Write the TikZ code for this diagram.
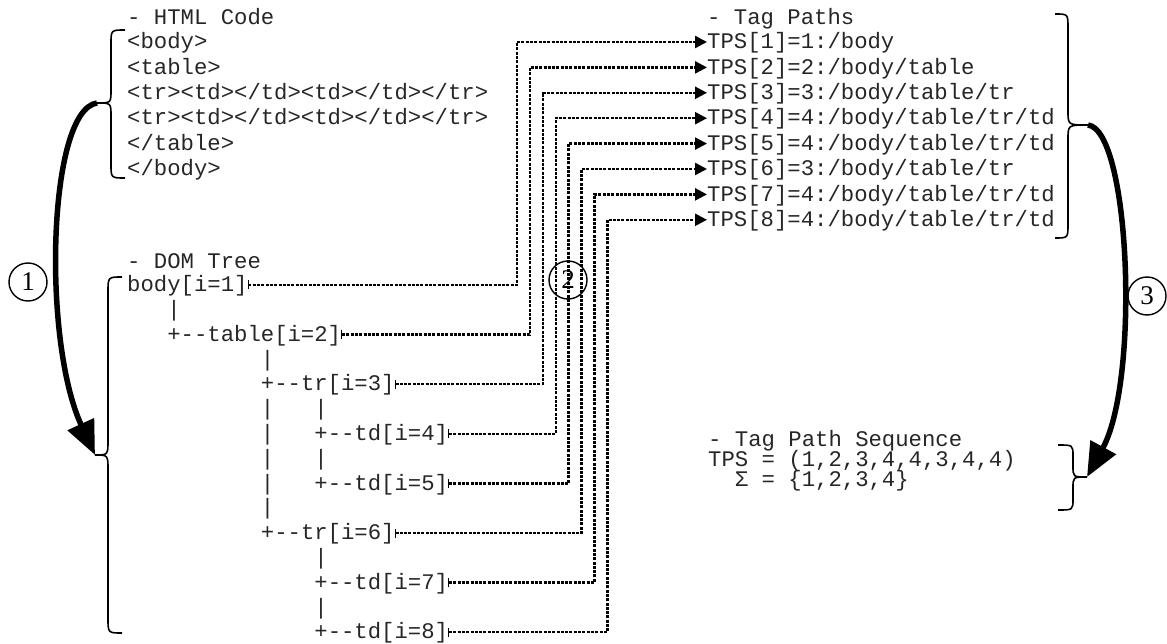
\documentclass[tikz,border=0pt]{standalone}
\usepackage{fontspec}
\setmonofont{Liberation Mono}
\newfontfamily\numfont{Liberation Serif}
\usetikzlibrary{arrows.meta}
\newcommand{\dcol}[1]{127+13.37*(#1)}
\newcommand{\drow}[1]{285+24.8*(#1)}
\newcommand{\trow}[1]{42+25.4*(#1)}
\begin{document}
\begin{tikzpicture}[x=1pt,y=-1pt,
  code/.style={anchor=west, inner sep=0pt, font=\fontsize{22.28}{24}\ttfamily, text=black!85, text height=17.8pt, text depth=4.4pt},
  conn/.style={line width=2.4pt, dash pattern=on 3pt off 1.3pt, {Bar[width=9pt,line width=1pt]}-{Triangle[length=12pt,width=12pt]}},
  brc/.style={line width=1.6pt},
  bigarrow/.style={line width=5.5pt, -{Triangle[length=34pt,width=28pt]}},
  num/.style={circle, draw, line width=1.4pt, minimum size=38pt, inner sep=0pt, font=\fontsize{27}{27}\numfont}]
\useasboundingbox (0,0) rectangle (1167,644);

% ---- HTML code
\node[code] (htitle) at (127,18) {- HTML Code};
\node[code] (h1) at (127,{\trow{0}}) {<body>};
\node[code] (h2) at (127,{\trow{1}}) {<table>};
\node[code] (h3) at (127,{\trow{2}}) {<tr><td></td><td></td></tr>};
\node[code] (h4) at (127,{\trow{3}}) {<tr><td></td><td></td></tr>};
\node[code] (h5) at (127,{\trow{4}}) {</table>};
\node[code] (h6) at (127,{\trow{5}}) {</body>};

% ---- Tag paths
\node[code] (ttitle) at (707,18) {- Tag Paths};
\node[code] (t1) at (707,{\trow{0}}) {TPS[1]=1:/body};
\node[code] (t2) at (707,{\trow{1}}) {TPS[2]=2:/body/table};
\node[code] (t3) at (707,{\trow{2}}) {TPS[3]=3:/body/table/tr};
\node[code] (t4) at (707,{\trow{3}}) {TPS[4]=4:/body/table/tr/td};
\node[code] (t5) at (707,{\trow{4}}) {TPS[5]=4:/body/table/tr/td};
\node[code] (t6) at (707,{\trow{5}}) {TPS[6]=3:/body/table/tr};
\node[code] (t7) at (707,{\trow{6}}) {TPS[7]=4:/body/table/tr/td};
\node[code] (t8) at (707,{\trow{7}}) {TPS[8]=4:/body/table/tr/td};

% ---- DOM tree
\node[code] (dtitle) at (127,262) {- DOM Tree};
\node[code] (d1) at ({\dcol{0}},{\drow{0}}) {body[i=1]};
\node[code] (p1) at ({\dcol{3}},{\drow{1}}) {|};
\node[code] (d2) at ({\dcol{3}},{\drow{2}}) {+--table[i=2]};
\node[code] (p2) at ({\dcol{10}},{\drow{3}}) {|};
\node[code] (d3) at ({\dcol{10}},{\drow{4}}) {+--tr[i=3]};
\node[code] (p3) at ({\dcol{10}},{\drow{5}}) {|};
\node[code] (p4) at ({\dcol{14}},{\drow{5}}) {|};
\node[code] (p5) at ({\dcol{10}},{\drow{6}}) {|};
\node[code] (d4) at ({\dcol{14}},{\drow{6}}) {+--td[i=4]};
\node[code] (p6) at ({\dcol{10}},{\drow{7}}) {|};
\node[code] (p7) at ({\dcol{14}},{\drow{7}}) {|};
\node[code] (p8) at ({\dcol{10}},{\drow{8}}) {|};
\node[code] (d5) at ({\dcol{14}},{\drow{8}}) {+--td[i=5]};
\node[code] (p9) at ({\dcol{10}},{\drow{9}}) {|};
\node[code] (d6) at ({\dcol{10}},{\drow{10}}) {+--tr[i=6]};
\node[code] (p10) at ({\dcol{14}},{\drow{11}}) {|};
\node[code] (d7) at ({\dcol{14}},{\drow{12}}) {+--td[i=7]};
\node[code] (p11) at ({\dcol{14}},{\drow{13}}) {|};
\node[code] (d8) at ({\dcol{14}},{\drow{14}}) {+--td[i=8]};

% ---- Tag path sequence
\node[code] (stitle) at (708,440) {- Tag Path Sequence};
\node[code] (s1) at (708,460) {TPS = (1,2,3,4,4,3,4,4)};
\node[code] (s2) at ({708+2*13.37},480) {Σ = \{1,2,3,4\}};

% ---- connectors
\foreach \k/\vx in {1/517,2/529.9,3/542.8,4/555.7,5/568.6,6/581.5,7/594.4,8/607.3}{
  \coordinate (v\k) at (\vx,0);
  \draw[conn] (d\k.east) -- (d\k.east -| v\k) -- (v\k |- t\k.west) -- (t\k.west);
}

% ---- braces
\coordinate (hb) at (97,103);
\coordinate (db) at (95,455);
\coordinate (tb) at (1088,125);
\coordinate (sb) at (1087,477);
\draw[brc] (125,30) .. controls (111,30) .. (111,44) -- (111,90) .. controls (111,103) .. (hb)
  .. controls (111,103) .. (111,116) -- (111,164) .. controls (111,178) .. (125,178);
\draw[brc] (122,277) .. controls (108,277) .. (108,292) -- (108,440) .. controls (108,455) .. (db)
  .. controls (108,455) .. (108,470) -- (108,618) .. controls (108,633) .. (122,633);
\draw[brc] (1055,14) .. controls (1068,14) .. (1068,28) -- (1068,111) .. controls (1068,125) .. (tb)
  .. controls (1068,125) .. (1068,139) -- (1068,224) .. controls (1068,238) .. (1055,238);
\draw[brc] (1058,445) .. controls (1073,445) .. (1073,456) -- (1073,466) .. controls (1073,477) .. (sb)
  .. controls (1073,477) .. (1073,488) -- (1073,499) .. controls (1073,510) .. (1058,510);

% ---- big arrows
\draw[bigarrow] (hb) .. controls (48,110) and (42,340) .. (db);
\draw[bigarrow] (tb) .. controls (1130,130) and (1140,380) .. (sb);

% ---- step numbers
\node[num] (n1) at (28,282) {1};
\node[num] (n2) at (568,280) {2};
\node[num] (n3) at (1147,296) {3};
\end{tikzpicture}
\end{document}
